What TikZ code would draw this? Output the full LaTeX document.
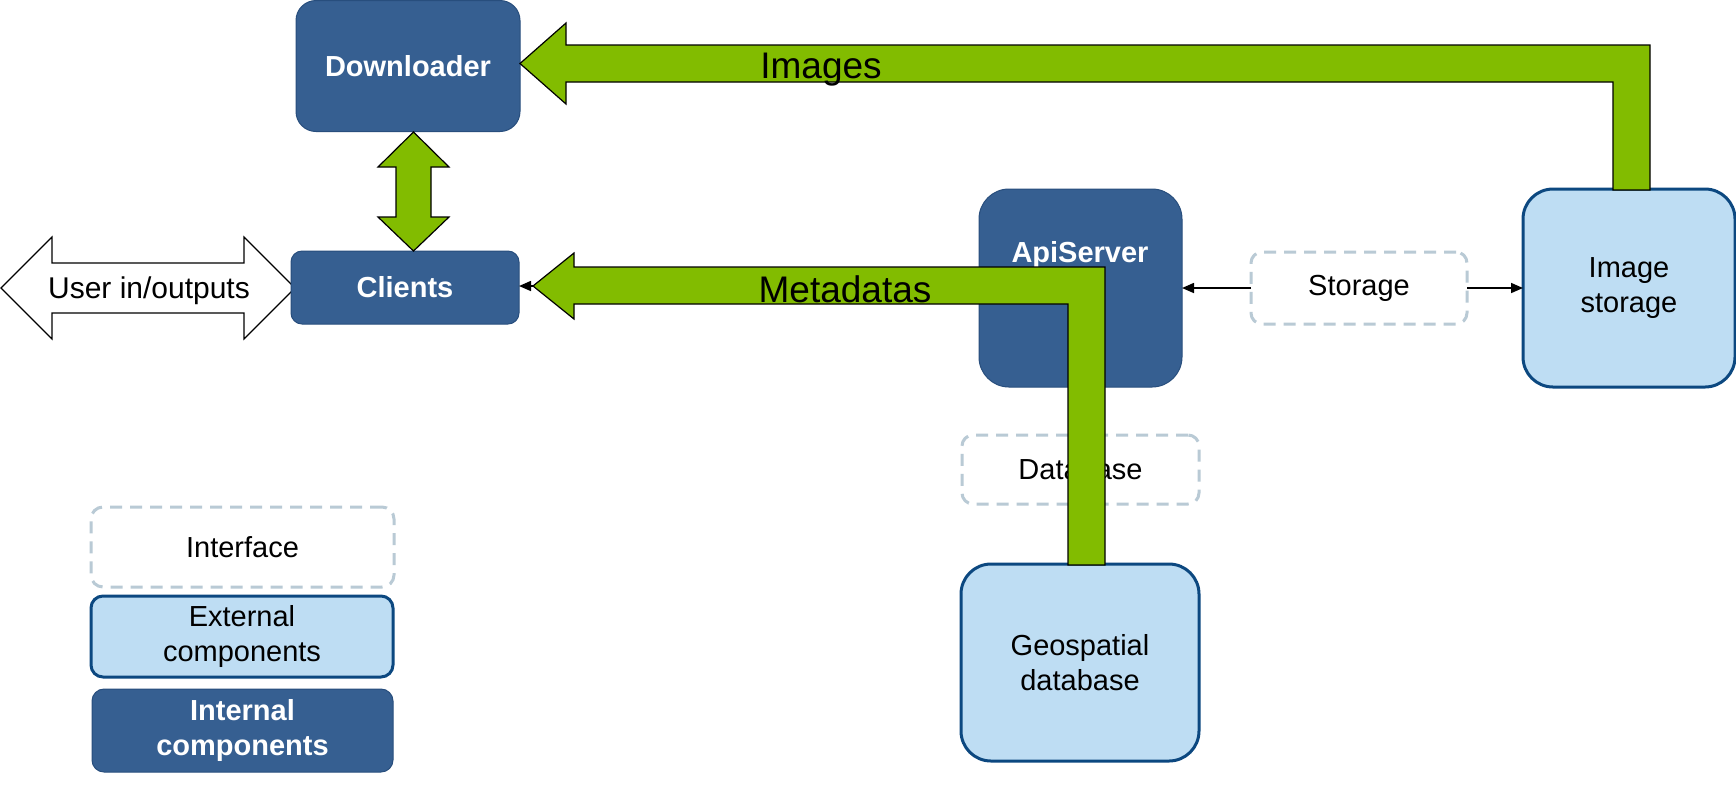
\documentclass[tikz,border=0pt]{standalone}
\usepackage{fontspec}
\setmainfont{Liberation Sans}
\usetikzlibrary{arrows.meta}
\definecolor{intfill}{RGB}{54,95,145}
\definecolor{intdraw}{RGB}{40,78,125}
\definecolor{extfill}{RGB}{190,221,243}
\definecolor{extdraw}{RGB}{12,72,128}
\definecolor{dashc}{RGB}{185,202,213}
\definecolor{greenc}{RGB}{130,188,0}
\tikzset{
 base/.style={inner sep=0pt, outer sep=0pt, align=center, font=\fontsize{14.5}{17.5}\selectfont},
 intbox/.style={base, fill=intfill, draw=intdraw, line width=0.5pt, text=white, font=\fontsize{14.5}{17.5}\selectfont\bfseries},
 extbox/.style={base, fill=extfill, draw=extdraw, line width=1.5pt},
 ifbox/.style={base, fill=white, draw=dashc, line width=1.5pt, dash pattern=on 6pt off 4pt},
 blockarrow/.style={fill=greenc, draw=black, line width=0.6pt, line join=miter},
 whitearrow/.style={fill=white, draw=black, line width=0.6pt, line join=miter},
 biglabel/.style={font=\fontsize{18.5}{22}\selectfont, inner sep=0pt},
 plainlabel/.style={font=\fontsize{15}{18}\selectfont, inner sep=0pt},
 thinarrow/.style={draw=black, line width=0.8pt, -{Triangle[length=6pt,width=5pt]}},
}
\begin{document}
\begin{tikzpicture}[x=0.5pt,y=-0.5pt]
\fill[white] (0,0) rectangle (1736,784);
\useasboundingbox (0,0) rectangle (1736,784);

% user in/outputs double arrow
\draw[whitearrow] (1,288) -- (52,237) -- (52,263) -- (244,263) -- (244,237) -- (295,288)
  -- (244,339) -- (244,313) -- (52,313) -- (52,339) -- cycle;
\node[plainlabel] (user) at (149,291) {User in/outputs};

% internal components
\node[intbox, minimum width=112pt, minimum height=65.5pt, rounded corners=10pt] (dl) at (408,66) {Downloader};
\node[intbox, minimum width=114pt, minimum height=36.5pt, rounded corners=5.5pt] (cl) at (405,287.5) {Clients};
\node[intbox, minimum width=101.5pt, minimum height=99pt, rounded corners=15pt] (api) at (1080.5,288) {};
\node[base, text=white, font=\fontsize{14.5}{17.5}\selectfont\bfseries] (apitext) at (1080,255) {ApiServer};

% external components
\node[extbox, minimum width=106pt, minimum height=99pt, rounded corners=15pt] (img) at (1629,288) {Image\\storage};
\node[extbox, minimum width=119pt, minimum height=98.5pt, rounded corners=15pt] (geo) at (1080,662.5) {Geospatial\\database};

% interfaces
\node[ifbox, minimum width=108pt, minimum height=36pt, rounded corners=5.5pt] (stor) at (1359,288) {Storage};
\node[ifbox, minimum width=118.5pt, minimum height=34.5pt, rounded corners=5.5pt] (db) at (1080.5,469.5) {Database};

% legend
\node[ifbox, minimum width=151.5pt, minimum height=40pt, rounded corners=6pt] (lif) at (242.5,547) {Interface};
\node[extbox, minimum width=151pt, minimum height=40.5pt, rounded corners=6pt] (lext) at (242,636.5) {External\\components};
\node[intbox, minimum width=150.5pt, minimum height=41.5pt, rounded corners=6pt] (lint) at (242.5,730.5) {Internal\\components};

% storage connectors
\draw[thinarrow] (stor.west) -- (api.east);
\draw[thinarrow] (stor.east) -- (img.west);

% downloader <-> clients
\draw[blockarrow] (413.5,132) -- (449,167) -- (431,167) -- (431,217) -- (449,217) -- (413.5,251)
  -- (378,217) -- (396,217) -- (396,167) -- (378,167) -- cycle;

% images arrow
\draw[blockarrow] (520,63.5) -- (566,23) -- (566,45) -- (1650,45) -- (1650,190) -- (1613,190)
  -- (1613,82) -- (566,82) -- (566,104) -- cycle;
\node[biglabel] (imglabel) at (821,70) {Images};

% metadatas arrow
\coordinate (mtip) at (533,286);
\draw[blockarrow] (mtip) -- (574,253) -- (574,267) -- (1105,267) -- (1105,565) -- (1068,565)
  -- (1068,304) -- (574,304) -- (574,319) -- cycle;
\node[biglabel] (metalabel) at (845,289) {Metadatas};
\draw[thinarrow] (mtip) -- (cl.east |- mtip);
\end{tikzpicture}
\end{document}
